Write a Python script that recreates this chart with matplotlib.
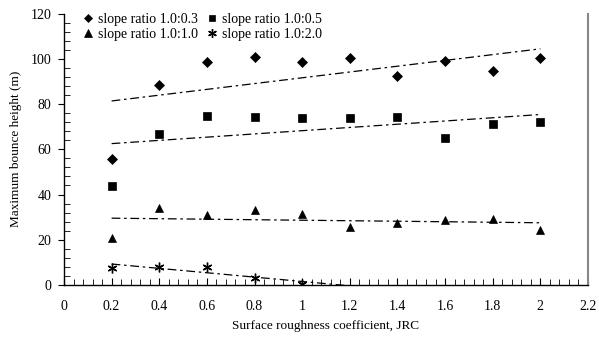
import numpy as np
import matplotlib
matplotlib.use("Agg")
import matplotlib.pyplot as plt
from matplotlib.ticker import MultipleLocator

plt.rcParams['font.family'] = ['Liberation Serif', 'DejaVu Serif']

# 粗糙度系数
jrc = [0.2, 0.4, 0.6, 0.8, 1.0, 1.2, 1.4, 1.6, 1.8, 2.0]
# 各坡比下的最大弹跳高度
h_03 = [55.8, 88.4, 98.7, 101.0, 98.4, 100.3, 92.2, 99.0, 94.7, 100.4]
h_05 = [43.9, 66.9, 74.6, 74.2, 73.7, 73.7, 74.2, 64.8, 71.2, 72.2]
h_10 = [20.9, 34.1, 30.8, 33.0, 31.3, 25.7, 27.3, 28.8, 29.1, 24.3]
jrc_20 = [0.2, 0.4, 0.6, 0.8, 1.0]
h_20 = [7.6, 8.1, 7.8, 3.2, 0.4]

series = [
    (jrc, h_03, 'D', 5, 'slope ratio 1.0:0.3', 2.0),
    (jrc, h_05, 's', 5.5, 'slope ratio 1.0:0.5', 2.0),
    (jrc, h_10, '^', 6, 'slope ratio 1.0:1.0', 2.0),
    (jrc_20, h_20, (6, 2, 0), 7, 'slope ratio 1.0:2.0', 1.2),
]


def show():
    fig = plt.figure(figsize=(5.99, 3.41), dpi=100)
    ax = fig.add_axes([0.1068, 0.1642, 0.8748, 0.796])

    handles = []
    for x, y, m, ms, lab, x_end in series:
        h, = ax.plot(x, y, linestyle='none', marker=m, ms=ms, color='black',
                     mew=1.0 if m == (6, 2, 0) else 0.5, label=lab)
        handles.append(h)
        # 线性趋势线
        k, b = np.polyfit(x, y, 1)
        xx = np.array([x[0], x_end])
        ax.plot(xx, k * xx + b, color='black', lw=0.9,
                dashes=(7, 3, 2, 3))

    ax.set_xlim(0, 2.2)
    ax.set_ylim(0, 120)
    ax.xaxis.set_minor_locator(MultipleLocator(0.04))
    ax.yaxis.set_major_locator(MultipleLocator(20))
    ax.yaxis.set_minor_locator(MultipleLocator(4))
    ax.set_xticks(np.arange(0, 2.21, 0.2))
    ax.set_xticklabels(['0', '0.2', '0.4', '0.6', '0.8', '1', '1.2',
                        '1.4', '1.6', '1.8', '2', '2.2'])
    ax.tick_params(axis='y', which='major', direction='out', length=4,
                   labelsize=10, pad=5)
    ax.tick_params(axis='y', which='minor', direction='in', length=4)
    ax.tick_params(axis='x', which='major', direction='in', length=5,
                   labelsize=10, pad=11)
    ax.tick_params(axis='x', which='minor', direction='in', length=4)

    ax.spines['top'].set_visible(False)
    ax.spines['right'].set_color('#888888')
    ax.spines['right'].set_linewidth(1.5)
    ax.spines['left'].set_linewidth(1.0)
    ax.spines['bottom'].set_linewidth(1.0)

    ax.set_xlabel('Surface roughness coefficient, JRC', fontsize=9.5,
                  labelpad=5)
    ax.set_ylabel('Maximum bounce height (m)', fontsize=9.5, labelpad=6)

    # 图例按行排列
    order = [0, 2, 1, 3]
    ax.legend([handles[i] for i in order], [series[i][4] for i in order],
              loc='upper left', bbox_to_anchor=(0.012, 1.05), ncol=2,
              frameon=False, fontsize=10, handlelength=0.8,
              handletextpad=0.3, columnspacing=0.6, labelspacing=0.2,
              markerscale=0.9)

    fig.savefig('out.png', dpi=100)


if __name__ == "__main__":
    show()
